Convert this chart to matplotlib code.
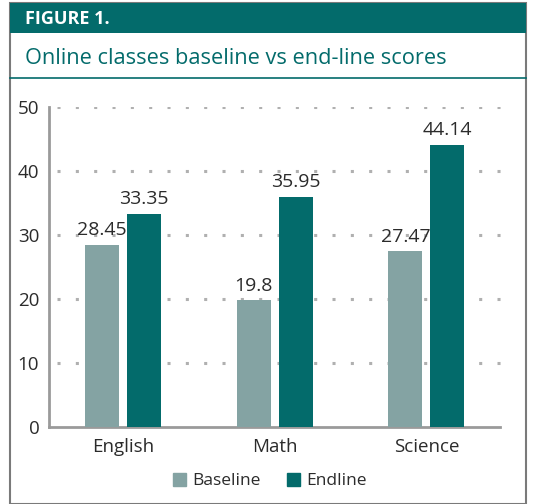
import matplotlib.pyplot as plt
import matplotlib.patches as mpatches
from matplotlib.lines import Line2D
import numpy as np

# %% Data

subjects = ["English", "Math", "Science"]
baseline = [28.45, 19.8, 27.47]
endline = [33.35, 35.95, 44.14]
series_names = ["Baseline", "Endline"]
yticks = [0, 10, 20, 30, 40, 50]

teal = "#036b6b"
grey_teal = "#84a3a3"
text_col = "#2b2b2b"
axis_col = "#9a9a9a"

plt.rcParams["font.family"] = ["Open Sans", "DejaVu Sans"]

W, H = 534, 504
fig = plt.figure(figsize=(W / 100, H / 100), dpi=100)

def fx(px):
    return px / W

def fy(py):
    return 1 - py / H

# %% Frame, header band and title

fig.patches.append(mpatches.Rectangle((fx(10), fy(504)), fx(516), fy(3) - fy(504),
                                      transform=fig.transFigure, fill=False,
                                      edgecolor="#7a7a7a", linewidth=1.5))
fig.patches.append(mpatches.Rectangle((fx(10), fy(33)), fx(516), fy(3) - fy(33),
                                      transform=fig.transFigure, facecolor=teal,
                                      edgecolor="none"))
fig.lines.append(Line2D([fx(10), fx(526)], [fy(78), fy(78)], transform=fig.transFigure,
                        color=teal, linewidth=1.2))
fig.text(fx(25), fy(19), "FIGURE 1.", color="white", fontsize=13, fontweight="bold",
         va="center", ha="left")
fig.text(fx(25), fy(58), "Online classes baseline vs end-line scores", color=teal,
         fontsize=15.7, va="center", ha="left")

# %% Chart

left_px, right_px, top_px, bot_px = 49, 512, 107, 427
ax = fig.add_axes([fx(left_px), fy(bot_px), fx(right_px - left_px), fy(top_px) - fy(bot_px)])

spacing = 151.75
x = np.arange(len(subjects))
w = 34 / spacing
off = 21 / spacing

b1 = ax.bar(x - off, baseline, w, color=grey_teal, zorder=3, label=series_names[0])
b2 = ax.bar(x + off, endline, w, color=teal, zorder=3, label=series_names[1])

for bars, vals in ((b1, baseline), (b2, endline)):
    for r, v in zip(bars, vals):
        ax.annotate(f"{v:g}", (r.get_x() + r.get_width() / 2, v), xytext=(0, 4),
                    textcoords="offset points", ha="center", va="bottom",
                    fontsize=14, color=text_col)

ax.set_xlim(-74 / spacing, (right_px - 123) / spacing)
ax.set_ylim(0, 50)
ax.set_yticks(yticks)
ax.set_yticklabels([str(t) for t in yticks], fontsize=13.5, color=text_col)
ax.set_xticks(x)
ax.set_xticklabels(subjects, fontsize=13.5, color=text_col)
ax.tick_params(axis="both", length=0)
ax.tick_params(axis="y", pad=7)
ax.tick_params(axis="x", pad=8)

for s in ("top", "right"):
    ax.spines[s].set_visible(False)
for s in ("left", "bottom"):
    ax.spines[s].set_color(axis_col)
    ax.spines[s].set_linewidth(2)
ax.spines["bottom"].set_bounds(-74 / spacing, (500 - 123) / spacing)

for t in yticks[1:]:
    ax.axhline(t, xmin=8 / (right_px - left_px), xmax=1, color="#b0b0b0",
               linestyle=(0, (1, 5)), linewidth=2.2, zorder=1)

ax.patch.set_visible(False)

handles = [mpatches.Patch(color=grey_teal), mpatches.Patch(color=teal)]
fig.legend(handles, series_names, loc="center", bbox_to_anchor=(fx(270), fy(481)),
           ncol=2, frameon=False, fontsize=12.5, handlelength=0.75, handleheight=0.75,
           handletextpad=0.35, columnspacing=1.5, labelcolor=text_col)

fig.savefig("out.png", dpi=100)
